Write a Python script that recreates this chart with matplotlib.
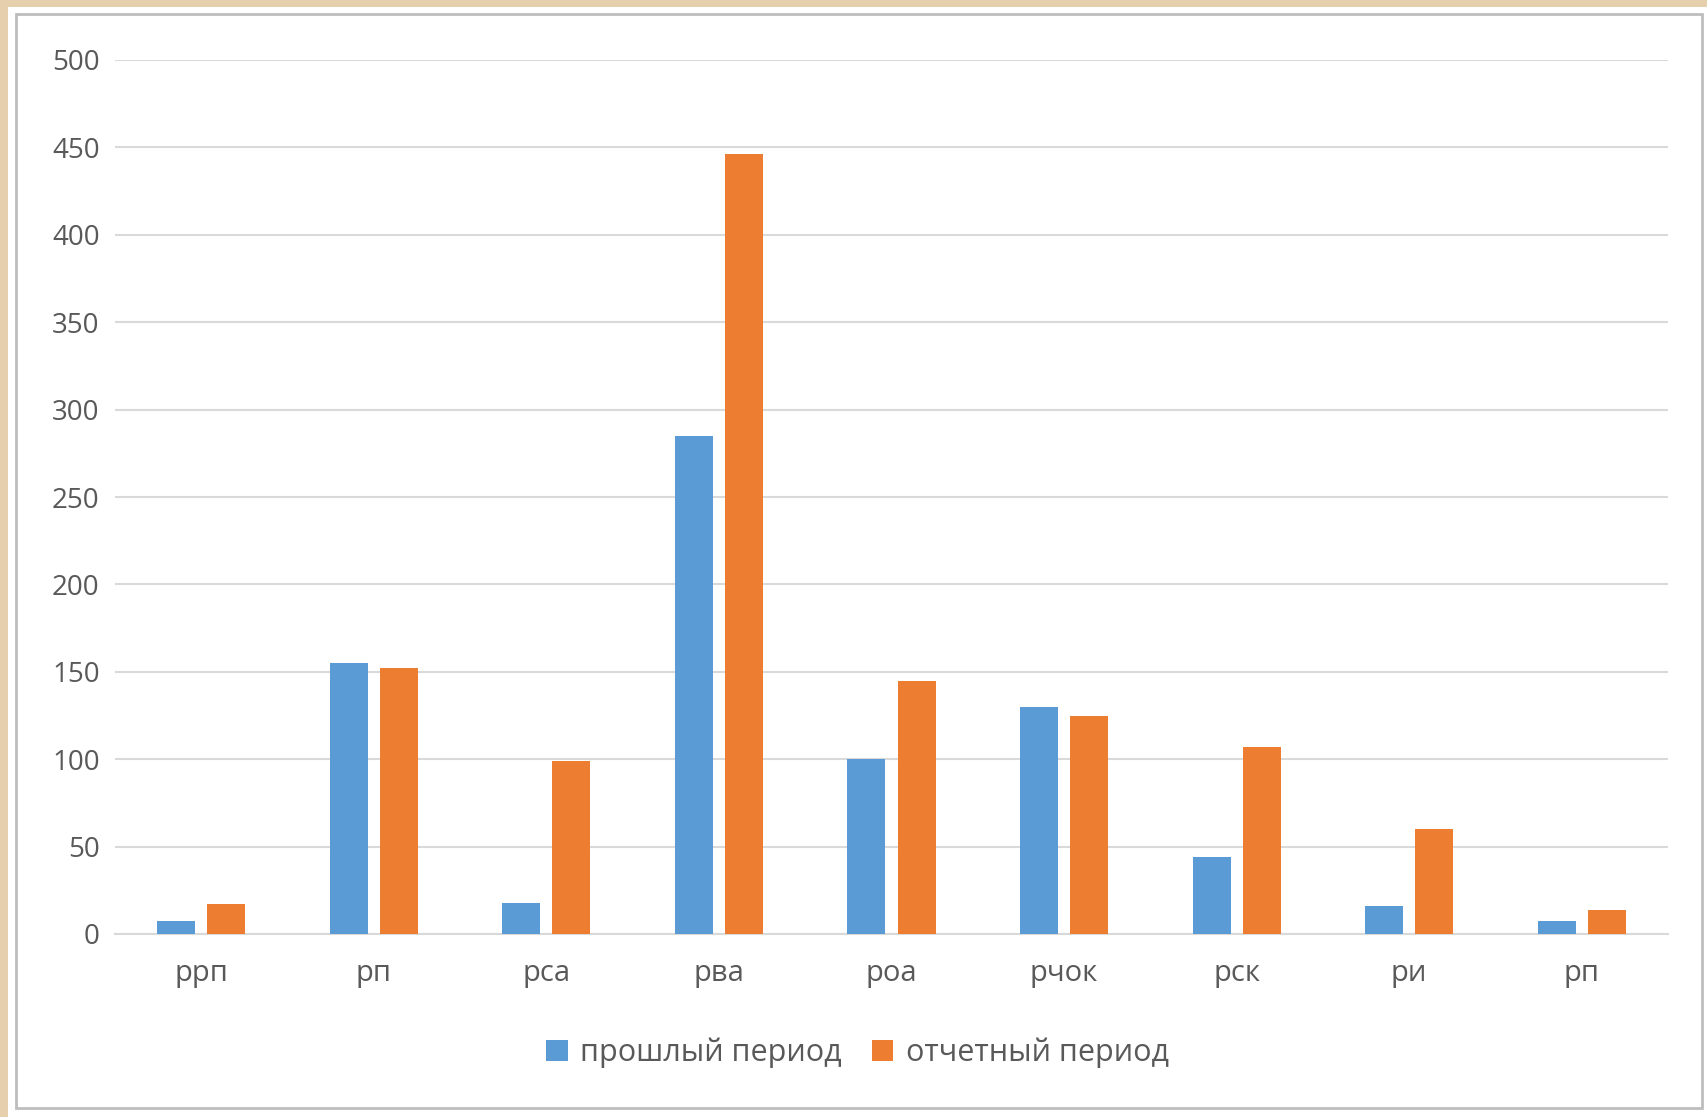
import matplotlib.pyplot as plt
from matplotlib.patches import Rectangle, Patch
import numpy as np

# Data
categories = ['ррп', 'рп', 'рса', 'рва', 'роа', 'рчок', 'рск', 'ри', 'рп']
prev_period = [7.5, 155, 18, 285, 100, 130, 44, 16, 7.5]
curr_period = [17, 152, 99, 446, 145, 125, 107, 60, 14]
series_names = ['прошлый период', 'отчетный период']

blue = '#5B9BD5'
orange = '#ED7D31'
grid_col = '#D9D9D9'
text_col = '#595959'

plt.rcParams['font.family'] = ['Open Sans', 'DejaVu Sans']

W, H = 1708, 1117
fig = plt.figure(figsize=(W / 100, H / 100), dpi=100, facecolor='#E6CFAC')

# White chart panel with a thin grey frame (behind the axes)
fig.patches.append(Rectangle((8 / W, 0), 1 - 8 / W, 1 - 7 / H, transform=fig.transFigure,
                             facecolor='white', edgecolor='none', zorder=-2))
fig.patches.append(Rectangle((16 / W, 1 - 1108 / H), (1702 - 16) / W, (1108 - 14) / H,
                             transform=fig.transFigure, facecolor='white',
                             edgecolor='#BDBDBD', linewidth=2, zorder=-1))

ax = fig.add_axes([115 / W, 1 - 934 / H, (1668 - 115) / W, (934 - 60) / H])
ax.set_facecolor('none')
ax.set_zorder(1)

x = np.arange(len(categories))
w = 0.22
off = 0.145
ax.bar(x - off, prev_period, w, color=blue, zorder=3)
ax.bar(x + off, curr_period, w, color=orange, zorder=3)

ax.set_xlim(-0.5, len(categories) - 0.5)
ax.set_ylim(0, 500)
ax.set_yticks(np.arange(0, 501, 50))
ax.yaxis.grid(True, color=grid_col, linewidth=1.5, zorder=0)
ax.set_axisbelow(True)

for s in ['top', 'right', 'left']:
    ax.spines[s].set_visible(False)
ax.spines['bottom'].set_color(grid_col)
ax.spines['bottom'].set_linewidth(1.5)

ax.set_xticks(x)
ax.set_xticklabels(categories)
ax.tick_params(axis='both', length=0, labelsize=20, colors=text_col)
ax.tick_params(axis='y', pad=11)
ax.tick_params(axis='x', pad=18, labelsize=21)

handles = [Patch(facecolor=blue, label=series_names[0]),
           Patch(facecolor=orange, label=series_names[1])]
fig.legend(handles=handles, loc='center', bbox_to_anchor=(0.502, 1 - 1053 / H),
           ncol=2, frameon=False, fontsize=22, handlelength=0.7, handleheight=0.7,
           handletextpad=0.4, columnspacing=1.0, labelcolor=text_col)

fig.savefig('out.png', dpi=100, facecolor=fig.get_facecolor())
